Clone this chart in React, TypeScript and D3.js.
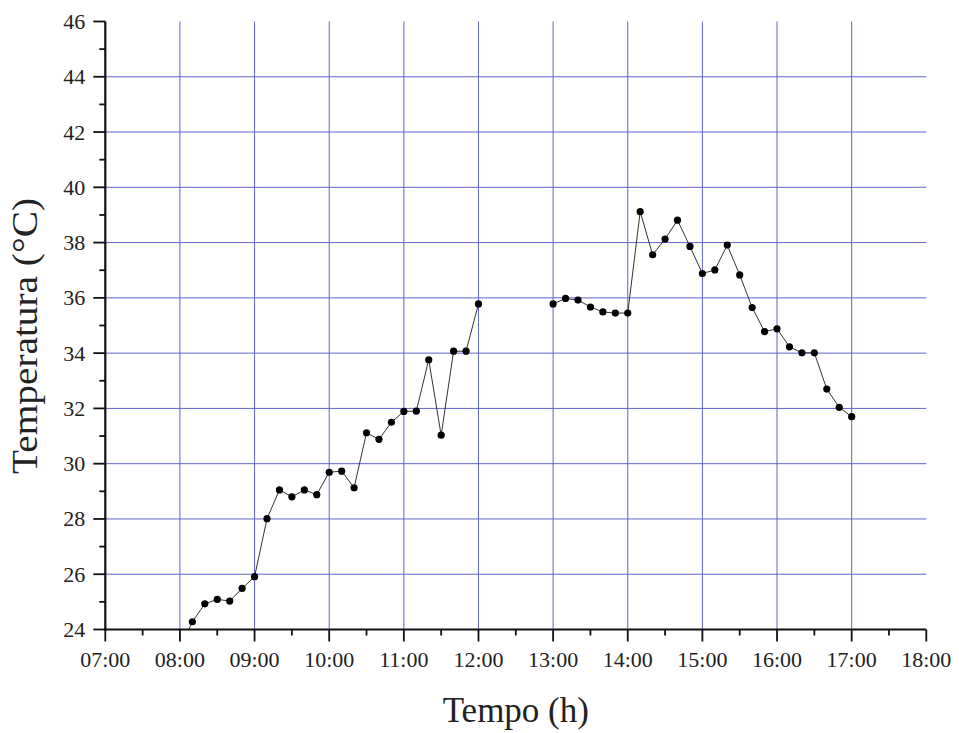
import * as d3 from "d3";

// morning readings, every 10 minutes (first one sits below the axis and is clipped)
const morningTimes = [
  "08:00", "08:10", "08:20", "08:30", "08:40", "08:50",
  "09:00", "09:10", "09:20", "09:30", "09:40", "09:50",
  "10:00", "10:10", "10:20", "10:30", "10:40", "10:50",
  "11:00", "11:10", "11:20", "11:30", "11:40", "11:50",
  "12:00",
];
const morningTemps = [
  23.3, 24.28, 24.93, 25.09, 25.03, 25.49,
  25.91, 28.01, 29.05, 28.8, 29.05, 28.88,
  29.69, 29.73, 29.13, 31.12, 30.88, 31.5,
  31.89, 31.9, 33.76, 31.03, 34.07, 34.07,
  35.78,
];

// afternoon readings
const afternoonTimes = [
  "13:00", "13:10", "13:20", "13:30", "13:40", "13:50",
  "14:00", "14:10", "14:20", "14:30", "14:40", "14:50",
  "15:00", "15:10", "15:20", "15:30", "15:40", "15:50",
  "16:00", "16:10", "16:20", "16:30", "16:40", "16:50",
  "17:00",
];
const afternoonTemps = [
  35.78, 35.98, 35.92, 35.67, 35.49, 35.45,
  35.45, 39.12, 37.56, 38.13, 38.81, 37.86,
  36.88, 37.01, 37.91, 36.83, 35.65, 34.78,
  34.88, 34.23, 34.01, 34.01, 32.7, 32.04,
  31.7,
];

const hourTicks = [
  "07:00", "08:00", "09:00", "10:00", "11:00", "12:00",
  "13:00", "14:00", "15:00", "16:00", "17:00", "18:00",
];
const halfHourTicks = [
  "07:30", "08:30", "09:30", "10:30", "11:30", "12:30",
  "13:30", "14:30", "15:30", "16:30", "17:30",
];
const tempTicks = [24, 26, 28, 30, 32, 34, 36, 38, 40, 42, 44, 46];
const tempMinorTicks = [25, 27, 29, 31, 33, 35, 37, 39, 41, 43, 45];

const WIDTH = 959;
const HEIGHT = 733;
const PLOT = { left: 105.3, right: 926.3, top: 21.5, bottom: 629.5 };
const FONT = "'Liberation Serif', 'Times New Roman', serif";
const GRID = "#6262cf";

const parse = d3.timeParse("%H:%M");
const toDate = (s: string) => parse(s) as Date;

type Point = { t: Date; v: number };

function App() {
  const xScale = d3
    .scaleTime()
    .domain([toDate("07:00"), toDate("18:00")])
    .range([PLOT.left, PLOT.right]);

  const yScale = d3
    .scaleLinear()
    .domain([24, 46])
    .range([PLOT.bottom, PLOT.top]);

  const segments: Point[][] = [
    morningTimes.map((t, i) => ({ t: toDate(t), v: morningTemps[i] })),
    afternoonTimes.map((t, i) => ({ t: toDate(t), v: afternoonTemps[i] })),
  ];

  const line = d3
    .line<Point>()
    .x((d) => xScale(d.t))
    .y((d) => yScale(d.v));

  // grid: hours inside the plot, temperatures between the axis and the top
  const vGrid = hourTicks.slice(1, -1).map((h) => (
    <line
      key={h}
      x1={xScale(toDate(h))}
      x2={xScale(toDate(h))}
      y1={yScale(46)}
      y2={yScale(24)}
      stroke={GRID}
      strokeWidth={1}
    />
  ));
  const hGrid = tempTicks.slice(1, -1).map((v) => (
    <line
      key={v}
      x1={xScale(toDate("07:00"))}
      x2={xScale(toDate("18:00"))}
      y1={yScale(v)}
      y2={yScale(v)}
      stroke={GRID}
      strokeWidth={1}
    />
  ));

  const xTicks = hourTicks.map((h) => {
    const x = xScale(toDate(h));
    return (
      <g key={h}>
        <line x1={x} x2={x} y1={PLOT.bottom} y2={PLOT.bottom + 12} stroke="#111" strokeWidth={1.8} />
        <text x={x} y={667} textAnchor="middle" fontSize={22} fontFamily={FONT} fill="#222">
          {h}
        </text>
      </g>
    );
  });
  const xMinor = halfHourTicks.map((h) => {
    const x = xScale(toDate(h));
    return <line key={h} x1={x} x2={x} y1={PLOT.bottom} y2={PLOT.bottom + 6} stroke="#111" strokeWidth={1.8} />;
  });

  const yTicks = tempTicks.map((v) => {
    const y = yScale(v);
    return (
      <g key={v}>
        <line x1={PLOT.left - 12} x2={PLOT.left} y1={y} y2={y} stroke="#111" strokeWidth={1.8} />
        <text
          x={PLOT.left - 20}
          y={y}
          textAnchor="end"
          dominantBaseline="central"
          fontSize={22}
          fontFamily={FONT}
          fill="#222"
        >
          {v}
        </text>
      </g>
    );
  });
  const yMinor = tempMinorTicks.map((v) => {
    const y = yScale(v);
    return <line key={v} x1={PLOT.left - 6} x2={PLOT.left} y1={y} y2={y} stroke="#111" strokeWidth={1.8} />;
  });

  return (
    <svg
      width={WIDTH}
      height={HEIGHT}
      style={{ position: "absolute", left: 0, top: 0, background: "white" }}
    >
      <defs>
        <clipPath id="plot-clip">
          <rect
            x={PLOT.left}
            y={PLOT.top}
            width={PLOT.right - PLOT.left}
            height={PLOT.bottom - PLOT.top}
          />
        </clipPath>
      </defs>

      {vGrid}
      {hGrid}

      <g clipPath="url(#plot-clip)">
        {segments.map((seg, i) => (
          <path key={i} d={line(seg) ?? ""} fill="none" stroke="#333" strokeWidth={1} />
        ))}
        {segments.flat().map((d, i) => (
          <circle key={i} cx={xScale(d.t)} cy={yScale(d.v)} r={3.6} fill="#000" />
        ))}
      </g>

      {/* axis lines */}
      <line x1={PLOT.left} x2={PLOT.left} y1={PLOT.top} y2={PLOT.bottom + 1} stroke="#111" strokeWidth={2.2} />
      <line x1={PLOT.left - 1} x2={PLOT.right} y1={PLOT.bottom} y2={PLOT.bottom} stroke="#111" strokeWidth={2.2} />
      {xMinor}
      {xTicks}
      {yMinor}
      {yTicks}

      <text
        x={(PLOT.left + PLOT.right) / 2}
        y={722}
        textAnchor="middle"
        fontSize={35}
        fontFamily={FONT}
        fill="#222"
      >
        Tempo (h)
      </text>
      <text
        transform="translate(37,336) rotate(-90)"
        textAnchor="middle"
        fontSize={36}
        fontFamily={FONT}
        fill="#222"
        textLength={276}
        lengthAdjust="spacingAndGlyphs"
      >
        Temperatura (°C)
      </text>
    </svg>
  );
}

export default App;
